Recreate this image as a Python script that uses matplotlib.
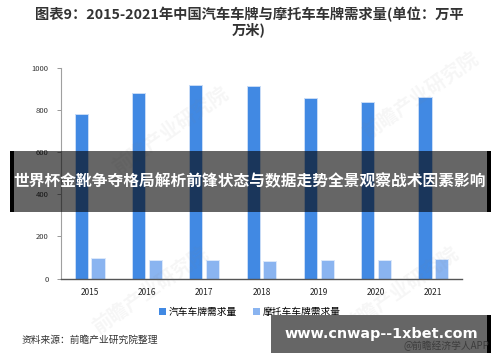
import matplotlib
matplotlib.use("Agg")
import matplotlib.pyplot as plt
from matplotlib.patches import Rectangle, Patch
import numpy as np

plt.rcParams['font.family'] = ['Noto Sans CJK SC', 'DejaVu Sans']

years = ["2015", "2016", "2017", "2018", "2019", "2020", "2021"]
car_demand = [778, 882, 920, 911, 857, 835, 862]
moto_demand = [97, 89, 89, 81, 89, 89, 94]
series_names = ["汽车车牌需求量", "摩托车车牌需求量"]
yticks = [0, 200, 400, 600, 800, 1000]

title = "图表9：2015-2021年中国汽车车牌与摩托车车牌需求量(单位：万平\n万米)"
banner = "世界杯金靴争夺格局解析前锋状态与数据走势全景观察战术因素影响"
source = "资料来源：前瞻产业研究院整理"
site = "www.cnwap--1xbet.com"
app = "@前瞻经济学人APP"

W, H = 500, 362
fig = plt.figure(figsize=(W / 100, H / 100), dpi=100)
fig.patch.set_facecolor('white')

def fx(px):
    return px / W

def fy(py):
    return 1 - py / H

ax = fig.add_axes([fx(61), fy(278.5), fx(462) - fx(61), fy(67.7) - fy(278.5)])
x = np.arange(len(years))
bw = 0.23
off = 0.145
car_c = '#4189e3'
moto_c = '#8ab4f0'
ax.bar(x - off, car_demand, bw, color=car_c, edgecolor='#c9dcf7', linewidth=0.7, zorder=2)
ax.bar(x + off, moto_demand, bw, color=moto_c, edgecolor='#dbe8fb', linewidth=0.7, zorder=2)
ax.set_xlim(-0.5, len(years) - 0.5)
ax.set_ylim(0, 1000)
ax.set_yticks(yticks)
ax.set_yticklabels([str(v) for v in yticks], fontsize=5.5, color='#333333')
ax.set_xticks(x)
ax.set_xticklabels(years, fontsize=6, color='#222222')
ax.tick_params(axis='x', length=0, pad=7)
ax.tick_params(axis='y', length=3, width=0.6, color='#888888', pad=6)
for s in ['top', 'right']:
    ax.spines[s].set_visible(False)
ax.spines['left'].set_color('#a0a0a0')
ax.spines['left'].set_linewidth(0.8)
ax.spines['bottom'].set_color('#555555')
ax.spines['bottom'].set_linewidth(1.0)

# faint watermarks
for wx, wy in [(170, 130), (420, 95), (150, 290), (400, 290)]:
    fig.text(fx(wx), fy(wy), "前瞻产业研究院", fontsize=14, color='#808080', alpha=0.07,
             rotation=35, ha='center', va='center', zorder=5, fontweight='bold')

fig.text(0.498, fy(22), title, ha='center', va='center', fontsize=10.3,
         fontweight='bold', color='#333333', linespacing=0.95, multialignment='center')

handles = [Patch(facecolor=car_c), Patch(facecolor=moto_c)]
fig.legend(handles, series_names, loc='center', bbox_to_anchor=(0.5, fy(311.7)),
           ncol=2, frameon=False, fontsize=7, handlelength=0.7, handleheight=0.7,
           handletextpad=0.3, columnspacing=1.6, borderaxespad=0)

fig.text(fx(22), fy(340), source, ha='left', va='center', fontsize=7, color='#333333')

# banner overlay
fig.patches.append(Rectangle((fx(10), fy(211.7)), fx(490) - fx(10), fy(150.7) - fy(211.7),
                             transform=fig.transFigure, facecolor='black', alpha=0.6,
                             edgecolor='none', zorder=10))
for bx in (10, 486.5):
    fig.patches.append(Rectangle((fx(bx), fy(211.7)), fx(4), fy(150.7) - fy(211.7),
                                 transform=fig.transFigure, facecolor='black',
                                 edgecolor='none', zorder=11))
fig.text(0.5, fy(181.5), banner, ha='center', va='center', fontsize=11.3,
         fontweight='bold', color='white', zorder=12)

# bottom-right box
fig.patches.append(Rectangle((fx(271), fy(353)), fx(486.5) - fx(271), fy(315) - fy(353),
                             transform=fig.transFigure, facecolor='#666666',
                             edgecolor='none', zorder=10))
fig.patches.append(Rectangle((fx(486.5), fy(353)), fx(4.5), fy(315) - fy(353),
                             transform=fig.transFigure, facecolor='black',
                             edgecolor='none', zorder=11))
fig.text(fx(489), fy(346), app, ha='right', va='center', fontsize=7,
         color='#3c3c3c', zorder=11.5)
fig.text(fx(381), fy(334), site, ha='center', va='center', fontsize=10.4,
         fontweight='bold', color='white', zorder=12, family='DejaVu Sans')

fig.savefig('out.png', dpi=100, facecolor='white')
